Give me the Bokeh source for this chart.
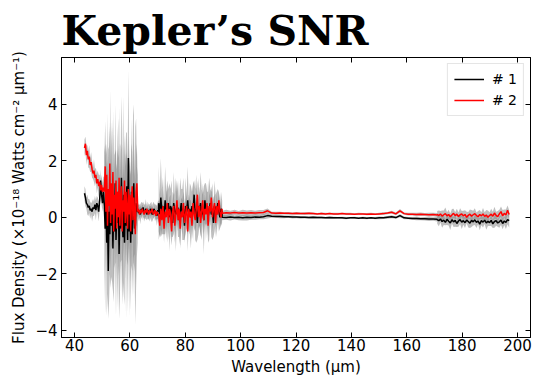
import numpy as np
from bokeh.plotting import figure
from bokeh.models import (LinearAxis, Legend, LegendItem, CustomJSTickFormatter,
                          FixedTicker, Range1d)
from bokeh.embed import file_html
from bokeh.resources import INLINE

title_text = "Kepler\u2019s SNR"
x_label = "Wavelength (\u03bcm)"
y_label = "Flux Density (\u00d710\u207b\u00b9\u2078 Watts cm\u207b\u00b2 \u03bcm\u207b\u00b9)"
series_names = ["# 1", "# 2"]
x_ticks = [40, 60, 80, 100, 120, 140, 160, 180, 200]
y_ticks = [-4, -2, 0, 2, 4]

# wavelength coverage of each detector segment (micron)
seg_bounds = [(43.6, 50.8), (50.8, 62.8), (62.8, 70.4), (70.4, 93.3), (93.3, 171.0), (171.0, 197.0)]

# segment A
f1_a = [0.85, 0.7, 0.5, 0.45, 0.35, 0.4, 0.25, 0.3, 0.2, 0.35, 0.3, 0.45, 0.25, 0.5, 0.4, 0.2, 0.6, 1.3, 0.8, 0.5, 0.9, 0.4]
f2_a = [2.45, 2.6, 2.2, 2.35, 2.05, 2.15, 1.85, 1.95, 1.7, 1.55, 1.65, 1.4, 1.5, 1.2, 1.35, 1.1, 1.25, 0.95, 1.15, 0.9, 1.05, 0.95]
e1_a = [0.25, 0.3, 0.2, 0.35, 0.3, 0.25, 0.3, 0.2, 0.35, 0.3, 0.25, 0.3, 0.35, 0.25, 0.3, 0.35, 0.3, 0.4, 0.35, 0.3, 0.4, 0.45]
e2_a = [0.3, 0.25, 0.35, 0.2, 0.3, 0.4, 0.25, 0.35, 0.3, 0.2, 0.4, 0.3, 0.25, 0.35, 0.3, 0.4, 0.25, 0.3, 0.35, 0.3, 0.4, 0.45]

# segment B
f1_b = [0.3, -0.4, 0.8, -0.9, 0.5, -1.9, 0.2, -0.6, 1.0, -0.3,
        0.6, -1.1, 0.4, -0.5, 1.2, -0.8, 0.3, -0.2, 0.9, -1.3,
        0.5, -0.4, 1.4, 0.0, -0.7, 0.8, -0.9, 0.6, -0.3, 1.1,
        -0.8, 2.1, -0.5, 0.3, -0.9, 0.9, -0.6, 0.4, 1.2, -0.4,
        -0.3, 0.5, 0.2, 0.3]
f2_b = [0.9, 1.8, 0.2, 1.5, -0.3, 1.0, 0.4, 1.9, -0.2, 1.2,
        0.1, 1.6, -0.5, 0.8, 0.3, 1.3, -0.4, 0.9, 0.0, 1.4,
        -0.3, 0.7, 1.1, -0.5, 0.6, 0.2, 1.3, -0.2, 0.9, 0.3,
        -0.4, 1.0, 0.1, 0.8, -0.5, 0.6, 1.1, -0.1, 0.7, 0.2,
        -0.6, 0.9, 1.2, 0.4]
e1_b = [2.0, 3.0, 1.2, 2.6, 3.2, 1.7, 3.2, 1.4, 3.5, 1.8,
        2.9, 1.5, 3.4, 1.3, 2.8, 2.7, 1.4, 3.0, 2.6, 2.3,
        3.4, 1.2, 2.9, 3.1, 1.6, 3.5, 2.2, 1.5, 3.3, 1.9,
        2.6, 3.1, 3.0, 1.4, 2.4, 2.6, 1.3, 3.2, 2.8, 1.5,
        3.5, 3.0, 1.6, 1.2]
e2_b = [1.2, 1.6, 2.0, 1.1, 1.8, 1.4, 2.1, 1.3, 1.7, 2.2,
        1.2, 1.6, 1.9, 1.4, 2.0, 1.1, 1.8, 1.5, 2.1, 1.2,
        1.7, 1.9, 1.3, 1.8, 2.0, 1.2, 1.6, 2.0, 1.4, 1.8,
        1.3, 1.9, 1.7, 1.3, 1.8, 2.0, 1.2, 1.6, 2.1, 1.5,
        1.8, 1.3, 1.4, 1.0]

# segment C
f1_c = [0.3, 0.15, 0.25, 0.1, 0.3, 0.2, 0.35, 0.15, 0.2, 0.3, 0.1, 0.25, 0.2, 0.15, 0.3, 0.2, 0.1, 0.25, 0.3, 0.15, 0.2, 0.05, 0.25, 0.2]
f2_c = [0.2, 0.3, 0.1, 0.25, 0.15, 0.3, 0.2, 0.1, 0.25, 0.15, 0.3, 0.2, 0.1, 0.25, 0.15, 0.2, 0.3, 0.1, 0.15, 0.25, 0.05, 0.2, 0.15, 0.1]
e1_c = [0.25, 0.3, 0.2, 0.35, 0.25, 0.3, 0.2, 0.3, 0.25, 0.35, 0.2, 0.3, 0.25, 0.3, 0.2, 0.35, 0.25, 0.3, 0.2, 0.3, 0.25, 0.35, 0.3, 0.4]
e2_c = [0.2, 0.15, 0.25, 0.15, 0.2, 0.15, 0.2, 0.15, 0.25, 0.15, 0.2, 0.15, 0.2, 0.15, 0.25, 0.15, 0.2, 0.15, 0.15, 0.2, 0.15, 0.25, 0.2, 0.3]

# segment D
f1_d = [0.5, 0.1, 0.7, 0.2, 0.4, -0.1, 0.6, 0.3, 0.2, 0.5, 0.0, 0.4, 0.3, -0.2, 0.5, 0.2, 0.1, 0.4, 0.3, -0.1,
        0.2, 0.5, 0.1, 0.3, -0.3, 0.4, 0.2, 0.6, 0.1, 0.3, 0.0, 0.4, 0.2, 0.8, 0.1, 0.3, -0.2, 0.4, 0.2, 0.5,
        0.1, 0.3, -0.1, 0.6, 0.2, 0.4, 0.0, 0.3, 0.5, 0.1, 0.2, -0.2, 0.4, 0.3, 0.1, 0.5, 0.2, 0.0, 0.3, 0.2]
f2_d = [0.1, -0.3, 0.3, -0.1, 0.4, -0.4, 0.2, 0.0, 0.5, -0.2, 0.3, 0.1, -0.5, 0.2, 0.4, -0.3, 0.1, 0.6, -0.1, 0.3,
        -0.4, 0.2, 0.0, 0.5, -0.2, 0.1, 0.4, -0.5, 0.3, 0.0, 0.2, -0.3, 0.5, 0.1, -0.1, 0.3, 0.8, 0.0, 0.4, -0.2,
        0.2, 0.6, -0.1, 0.3, 0.1, 0.5, -0.3, 0.4, 0.2, 0.7, 0.0, 0.3, 0.5, -0.2, 0.4, 0.1, 0.6, 0.2, 0.0, 0.3]
e1_d = [1.3, 0.7, 1.4, 0.8, 1.0, 0.5, 1.2, 0.6, 1.1, 0.5, 1.2, 0.6, 1.0, 0.5, 1.1, 0.6, 1.3, 0.5, 1.0, 0.6,
        1.2, 0.5, 0.9, 1.1, 0.5, 1.0, 0.6, 1.2, 0.5, 0.9, 1.1, 0.5, 1.0, 0.5, 0.9, 1.2, 0.6, 1.0, 0.5, 1.1,
        0.9, 0.5, 1.2, 0.6, 1.0, 0.5, 0.9, 1.1, 0.5, 0.8, 1.0, 0.5, 0.9, 0.5, 0.8, 0.5, 0.7, 0.4, 0.6, 0.4]
e2_d = [0.6, 0.4, 0.7, 0.5, 0.6, 0.5, 0.3, 0.8, 0.5, 0.6, 0.4, 0.7, 0.5, 0.7, 0.4, 0.6, 0.5, 0.7, 0.4, 0.5,
        0.7, 0.5, 0.6, 0.4, 0.7, 0.5, 0.4, 0.7, 0.5, 0.6, 0.4, 0.5, 0.7, 0.5, 0.4, 0.6, 0.5, 0.4, 0.7, 0.5,
        0.4, 0.6, 0.5, 0.5, 0.4, 0.7, 0.4, 0.5, 0.5, 0.4, 0.5, 0.4, 0.3, 0.5, 0.4, 0.4, 0.3, 0.4, 0.3, 0.3]

# segment E
f1_e = [0.0, -0.01, 0.01, -0.01, 0.0, -0.02, 0.0, -0.01, 0.01, 0.0, 0.02, 0.06, 0.04, 0.03, 0.03, 0.02, 0.02, 0.01, 0.01, 0.0,
        0.0, -0.01, 0.0, -0.01, -0.01, -0.02, -0.01, -0.02, -0.02, -0.02, -0.03, -0.02, -0.02, -0.03, -0.02, -0.03, -0.02, -0.03, -0.02, -0.02,
        0.0, 0.02, -0.01, 0.06, -0.02, -0.03, -0.04, -0.04, -0.05, -0.05, -0.06, -0.06, -0.07]
f2_e = [0.14, 0.16, 0.15, 0.17, 0.15, 0.16, 0.15, 0.16, 0.15, 0.16, 0.17, 0.23, 0.15, 0.14, 0.15, 0.14, 0.14, 0.13, 0.14, 0.13,
        0.13, 0.14, 0.13, 0.12, 0.13, 0.12, 0.13, 0.12, 0.12, 0.13, 0.12, 0.12, 0.11, 0.12, 0.12, 0.11, 0.12, 0.11, 0.12, 0.13,
        0.15, 0.18, 0.12, 0.23, 0.13, 0.11, 0.11, 0.10, 0.11, 0.10, 0.09, 0.10, 0.08]
e1_e = [0.1, 0.08, 0.12, 0.07, 0.1, 0.09, 0.11, 0.08, 0.1, 0.07, 0.09, 0.1, 0.06, 0.05, 0.06, 0.05, 0.04, 0.05, 0.04, 0.05,
        0.04, 0.04, 0.05, 0.04, 0.04, 0.03, 0.04, 0.04, 0.03, 0.04, 0.04, 0.03, 0.04, 0.03, 0.04, 0.04, 0.03, 0.04, 0.05, 0.04,
        0.05, 0.05, 0.04, 0.06, 0.05, 0.04, 0.05, 0.06, 0.05, 0.06, 0.07, 0.06, 0.08]
e2_e = [0.09, 0.11, 0.08, 0.1, 0.07, 0.11, 0.09, 0.1, 0.08, 0.1, 0.09, 0.08, 0.05, 0.06, 0.05, 0.04, 0.05, 0.04, 0.05, 0.04,
        0.05, 0.04, 0.04, 0.03, 0.04, 0.04, 0.03, 0.04, 0.04, 0.03, 0.04, 0.04, 0.03, 0.04, 0.03, 0.04, 0.04, 0.03, 0.04, 0.05,
        0.04, 0.05, 0.05, 0.06, 0.04, 0.05, 0.05, 0.06, 0.06, 0.05, 0.07, 0.06, 0.07]

# segment F
f1_f = [-0.08, -0.12, -0.06, -0.15, -0.1, -0.18, -0.07, -0.14, -0.2, -0.09, -0.16, -0.11, -0.22, -0.13, -0.08, -0.17, -0.12, -0.19, -0.1, -0.15,
        -0.21, -0.11, -0.16, -0.09, -0.18, -0.13, -0.24, -0.12, -0.17, -0.1, -0.2, -0.14, -0.19, -0.11, -0.23, -0.15, -0.12, -0.2, -0.16, -0.1,
        -0.22, -0.13, -0.18, -0.08, -0.12]
f2_f = [0.1, 0.06, 0.12, 0.04, 0.09, 0.13, 0.05, 0.1, 0.02, 0.08, 0.14, 0.06, 0.11, 0.03, 0.09, 0.12, 0.05, 0.1, 0.0, 0.07,
        0.11, 0.04, 0.09, 0.13, 0.06, 0.02, 0.1, 0.05, 0.12, 0.03, 0.08, 0.0, 0.06, 0.11, 0.04, 0.15, 0.07, 0.02, 0.12, 0.2,
        0.05, 0.14, 0.08, 0.25, 0.1]
e1_f = [0.15, 0.2, 0.12, 0.22, 0.17, 0.1, 0.2, 0.15, 0.25, 0.13, 0.18, 0.22, 0.12, 0.2, 0.16, 0.24, 0.14, 0.19, 0.11, 0.21,
        0.17, 0.23, 0.13, 0.18, 0.2, 0.12, 0.22, 0.16, 0.19, 0.14, 0.24, 0.17, 0.12, 0.2, 0.15, 0.22, 0.18, 0.13, 0.21, 0.16,
        0.2, 0.14, 0.23, 0.17, 0.25]
e2_f = [0.12, 0.18, 0.1, 0.2, 0.15, 0.22, 0.13, 0.17, 0.11, 0.21, 0.16, 0.12, 0.19, 0.14, 0.23, 0.1, 0.18, 0.15, 0.2, 0.12,
        0.17, 0.22, 0.14, 0.19, 0.11, 0.2, 0.16, 0.13, 0.21, 0.15, 0.18, 0.24, 0.12, 0.19, 0.16, 0.22, 0.13, 0.2, 0.15, 0.18,
        0.21, 0.14, 0.2, 0.17, 0.15]

segments = [
    (f1_a, f2_a, e1_a, e2_a),
    (f1_b, f2_b, e1_b, e2_b),
    (f1_c, f2_c, e1_c, e2_c),
    (f1_d, f2_d, e1_d, e2_d),
    (f1_e, f2_e, e1_e, e2_e),
    (f1_f, f2_f, e1_f, e2_f),
]

wl, y1, y2, err1, err2 = [], [], [], [], []
for (lo, hi), (a, b, c, d) in zip(seg_bounds, segments):
    n = min(len(a), len(b), len(c), len(d))
    wl.extend(np.linspace(lo, hi, n))
    y1.extend(a[:n]); y2.extend(b[:n]); err1.extend(c[:n]); err2.extend(d[:n])
wl = np.array(wl); y1 = np.array(y1); y2 = np.array(y2)
err1 = np.array(err1); err2 = np.array(err2)

p = figure(width=535, height=378, output_backend="svg", toolbar_location=None,
           x_range=Range1d(35.3, 204.7), y_range=Range1d(-4.25, 5.65),
           min_border_left=61, min_border_right=5, min_border_top=57, min_border_bottom=40)
p.background_fill_color = "white"
p.border_fill_color = "white"
p.outline_line_color = "black"
p.outline_line_width = 1
p.grid.visible = False

p.title.text = title_text
p.title.text_font = "DejaVu Serif"
p.title.text_font_size = "41px"
p.title.text_font_style = "bold"
p.title.text_color = "black"
p.title.align = "left"
p.title.standoff = 6

p.varea(x=wl, y1=y1 - err1, y2=y1 + err1, fill_color="gray", fill_alpha=0.5)
p.varea(x=wl, y1=y2 - err2, y2=y2 + err2, fill_color="gray", fill_alpha=0.5)
r1 = p.line(wl, y1, line_color="black", line_width=1.5)
r2 = p.line(wl, y2, line_color="red", line_width=1.5)

fmt = CustomJSTickFormatter(code="return String(Math.round(tick)).replace('-', '\u2212');")
blank = CustomJSTickFormatter(code="return '';")

for ax in (p.xaxis[0], p.yaxis[0]):
    ax.formatter = fmt
    ax.major_label_text_font = "DejaVu Sans"
    ax.major_label_text_font_size = "15px"
    ax.major_label_text_color = "black"
    ax.axis_label_text_font = "DejaVu Sans"
    ax.axis_label_text_font_size = "15px"
    ax.axis_label_text_font_style = "normal"
    ax.axis_label_text_color = "black"
    ax.major_tick_in = 5
    ax.major_tick_out = 0
    ax.minor_tick_line_color = None
    ax.axis_line_color = "black"
    ax.major_tick_line_color = "black"
    ax.axis_label_standoff = 4

p.xaxis[0].major_label_standoff = 1
p.yaxis[0].major_label_standoff = 4
p.xaxis[0].ticker = FixedTicker(ticks=x_ticks)
p.yaxis[0].ticker = FixedTicker(ticks=y_ticks)
p.xaxis[0].axis_label = x_label
p.yaxis[0].axis_label = y_label

top = LinearAxis(ticker=FixedTicker(ticks=x_ticks), formatter=blank,
                 major_label_standoff=0, major_tick_in=5, major_tick_out=0,
                 minor_tick_line_color=None, axis_line_color="black")
right = LinearAxis(ticker=FixedTicker(ticks=y_ticks), formatter=blank,
                   major_label_standoff=0, major_tick_in=5, major_tick_out=0,
                   minor_tick_line_color=None, axis_line_color="black")
p.add_layout(top, "above")
p.add_layout(right, "right")

legend = Legend(items=[LegendItem(label=series_names[0], renderers=[r1]),
                       LegendItem(label=series_names[1], renderers=[r2])],
                location="top_right")
legend.label_text_font = "DejaVu Sans"
legend.label_text_font_size = "14px"
legend.label_text_color = "black"
legend.glyph_width = 30
legend.glyph_height = 18
legend.label_standoff = 8
legend.spacing = 3
legend.padding = 6
legend.margin = 6
legend.border_line_color = "#cccccc"
legend.background_fill_alpha = 0.8
p.add_layout(legend)

open("out.html", "w").write(file_html(p, INLINE))
